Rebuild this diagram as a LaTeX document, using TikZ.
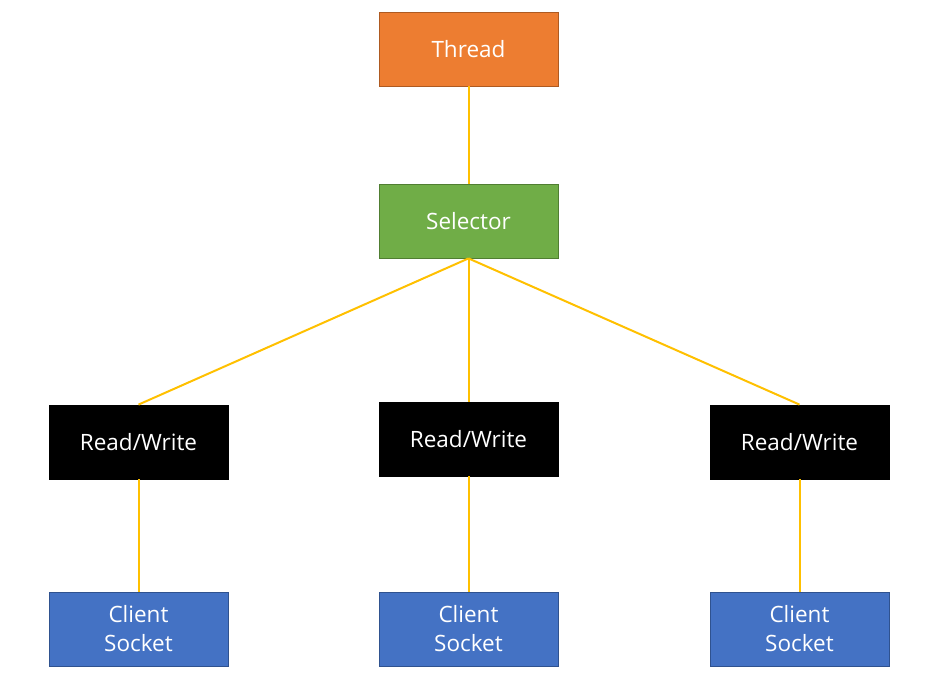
\documentclass[tikz,border=0pt]{standalone}
\usepackage{fontspec}
\setmainfont{Open Sans}
\definecolor{orangefill}{HTML}{ED7D31}
\definecolor{orangeline}{HTML}{AE5A21}
\definecolor{greenfill}{HTML}{70AD47}
\definecolor{greenline}{HTML}{507E32}
\definecolor{bluefill}{HTML}{4472C4}
\definecolor{blueline}{HTML}{2F528F}
\definecolor{link}{HTML}{FFC000}
\begin{document}
\begin{tikzpicture}[x=1pt,y=-1pt,
  box/.style={minimum width=179pt,minimum height=74pt,inner sep=0pt,text=white,font=\fontsize{22.5}{29}\selectfont,align=center,line width=0.8pt},
  orangebox/.style={box,fill=orangefill,draw=orangeline},
  greenbox/.style={box,fill=greenfill,draw=greenline},
  bluebox/.style={box,fill=bluefill,draw=blueline},
  blackbox/.style={box,fill=black,draw=black},
  conn/.style={draw=link,line width=2pt}]
\useasboundingbox (0,0) rectangle (950,677);
\node[orangebox] (thread) at (468.5,49) {Thread};
\node[greenbox] (sel) at (468.5,221) {Selector};
\node[blackbox] (rw1) at (138.5,442) {Read/Write};
\node[blackbox] (rw2) at (468.5,439) {Read/Write};
\node[blackbox] (rw3) at (799.5,442) {Read/Write};
\node[bluebox] (c1) at (138.5,629) {Client\\Socket};
\node[bluebox] (c2) at (468.5,629) {Client\\Socket};
\node[bluebox] (c3) at (799.5,629) {Client\\Socket};
\draw[conn] (thread.south) -- (sel.north);
\draw[conn] (sel.south) -- (rw1.north);
\draw[conn] (sel.south) -- (rw2.north);
\draw[conn] (sel.south) -- (rw3.north);
\draw[conn] (rw1.south) -- (c1.north);
\draw[conn] (rw2.south) -- (c2.north);
\draw[conn] (rw3.south) -- (c3.north);
\end{tikzpicture}
\end{document}
